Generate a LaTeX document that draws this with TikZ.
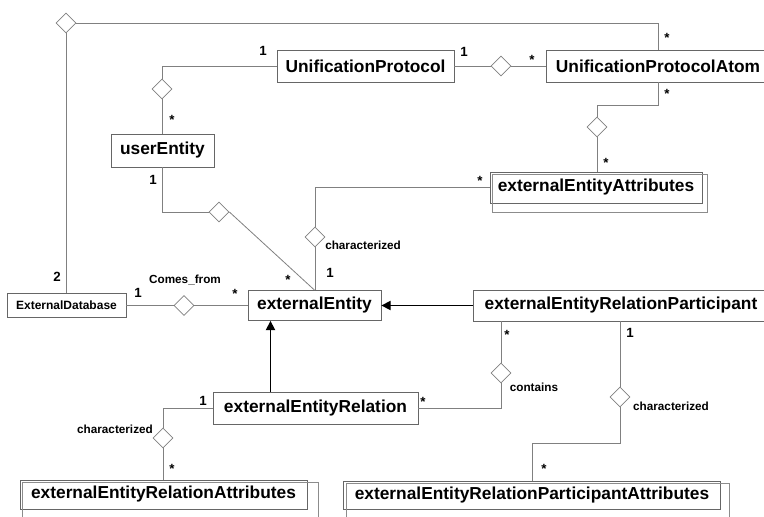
\documentclass[tikz,border=0pt]{standalone}
\usepackage{fontspec}
\setmainfont{Liberation Sans}
\usetikzlibrary{shapes.geometric, arrows.meta, positioning, calc}

\begin{document}
\begin{tikzpicture}[x=0.75pt, y=-0.75pt,
    cls/.style={rectangle, draw=black!60, line width=0.6pt, inner sep=0pt, font=\bfseries\fontsize{13}{15}\selectfont},
    dims/.style 2 args={minimum width=#1*0.75pt, minimum height=#2*0.75pt},
    backbox/.style={draw=black!45, line width=0.6pt},
    agg/.style={diamond, draw=black!50, fill=white, line width=0.6pt, inner sep=0pt, minimum width=15pt, minimum height=15pt},
    assoc/.style={draw=black!50, line width=0.6pt},
    gen/.style={draw, line width=1.1pt, -{Triangle[length=7pt,width=7pt]}},
    mult/.style={font=\bfseries\fontsize{10}{12}\selectfont, inner sep=0pt},
    mstar/.style={mult, yshift=-2pt},
    role/.style={font=\bfseries\fontsize{8.8}{10}\selectfont, inner sep=0pt}]

    \useasboundingbox (0,0) rectangle (764,517);
    \clip (0,0) rectangle (764,517);

    % classes
    \node [cls, dims={177}{32}] (up) at (365.5,66) {UnificationProtocol};
    \node [cls, dims={224}{32}] (upa) at (658,66) {UnificationProtocolAtom};
    \node [cls, dims={103}{33}] (ue) at (162.5,150.5) {userEntity};
    \node [cls, dims={212}{31}] (eea) at (596,187.5) {externalEntityAttributes};
    \node [cls, dims={119}{24}, font=\bfseries\fontsize{9}{11}\selectfont] (db) at (66.5,305.5) {ExternalDatabase};
    \node [cls, dims={133}{30}] (ee) at (314.5,305.5) {externalEntity};
    \node [cls, dims={296}{31}] (eerp) at (621,305.5) {externalEntityRelationParticipant};
    \node [cls, dims={205}{32}] (eer) at (315.5,408) {externalEntityRelation};
    \node [cls, dims={287}{29}] (eera) at (163.5,494.5) {externalEntityRelationAttributes};
    \node [cls, dims={377}{28}] (eerpa) at (532,495) {externalEntityRelationParticipantAttributes};

    % stacked copies behind the attribute classes
    \foreach \n/\dx in {eea/5, eera/11, eerpa/8}
        \draw [backbox] ($(\n.north west)+(3,3)$) rectangle ($(\n.south east)+(\dx,9)$);

    % aggregation diamonds
    \node [agg] (dbatom) at (66,23) {};
    \node [agg] (protuser) at (162,89) {};
    \node [agg] (protatom) at (501,66) {};
    \node [agg] (atomattr) at (597,127) {};
    \node [agg] (userent) at (219,212) {};
    \node [agg] (entattr) at (315,237) {};
    \node [agg] (comesfrom) at (184,305.5) {};
    \node [agg] (contains) at (501,373) {};
    \node [agg] (partattr) at (620,397) {};
    \node [agg] (relattr) at (163,438) {};

    % associations
    \draw [assoc] (dbatom) -| (upa);
    \draw [assoc] (dbatom) -- (dbatom |- db.north);
    \draw [assoc] (up) -| (protuser);
    \draw [assoc] (protuser) -- (protuser |- ue.north);
    \draw [assoc] (up) -- (protatom) -- (upa);
    \draw [assoc] (upa.south) -- ++(0,23) -| (atomattr);
    \draw [assoc] (atomattr) -- (atomattr |- eea.north);
    \draw [assoc] (ue) |- (userent);
    \draw [assoc] (userent.east) -- (ee.north);
    \draw [assoc] (entattr |- ee.north) -- (entattr);
    \draw [assoc] (entattr) |- (eea);
    \draw [assoc] (db) -- (comesfrom) -- (ee);
    \draw [assoc] (eer) -| (relattr);
    \draw [assoc] (relattr) -- (relattr |- eera.north);
    \draw [assoc] (eer) -| (contains);
    \draw [assoc] (contains) -- (contains |- eerp.south);
    \draw [assoc] (partattr |- eerp.south) -- (partattr);
    \draw [assoc] (partattr.south) -- ++(0,36) -| (eerpa);

    % generalizations
    \draw [gen] (eerp) -- (ee);
    \coordinate (eerup) at ($(eer.north)+(-45,0)$);
    \draw [gen] (eerup) -- (eerup |- ee.south);

    % multiplicities
    \node [mstar] (m1) at (667,35) {*};
    \node [mult] (m2) at (57,277) {2};
    \node [mult] (m3) at (263,51) {1};
    \node [mstar] (m4) at (172,117) {*};
    \node [mult] (m5) at (464,52) {1};
    \node [mstar] (m6) at (532,57) {*};
    \node [mstar] (m7) at (667,91) {*};
    \node [mstar] (m8) at (606,160) {*};
    \node [mult] (m9) at (153,180) {1};
    \node [mstar] (m10) at (288,277) {*};
    \node [mult] (m11) at (330,273) {1};
    \node [mstar] (m12) at (480,178) {*};
    \node [mult] (m13) at (138,293) {1};
    \node [mstar] (m14) at (235,291) {*};
    \node [mult] (m15) at (203,401) {1};
    \node [mstar] (m16) at (172,466) {*};
    \node [mstar] (m17) at (423,399) {*};
    \node [mstar] (m18) at (507,332) {*};
    \node [mult] (m19) at (630,333) {1};
    \node [mstar] (m20) at (544,466) {*};

    % association names
    \node [role] (rcomes) at (185,280) {Comes\_from};
    \node [role, anchor=west] (rentattr) at (325,245) {characterized};
    \node [role] (rrelattr) at (115,429) {characterized};
    \node [role] (rcontains) at (534,387) {contains};
    \node [role] (rpartattr) at (671,406) {characterized};
\end{tikzpicture}
\end{document}
